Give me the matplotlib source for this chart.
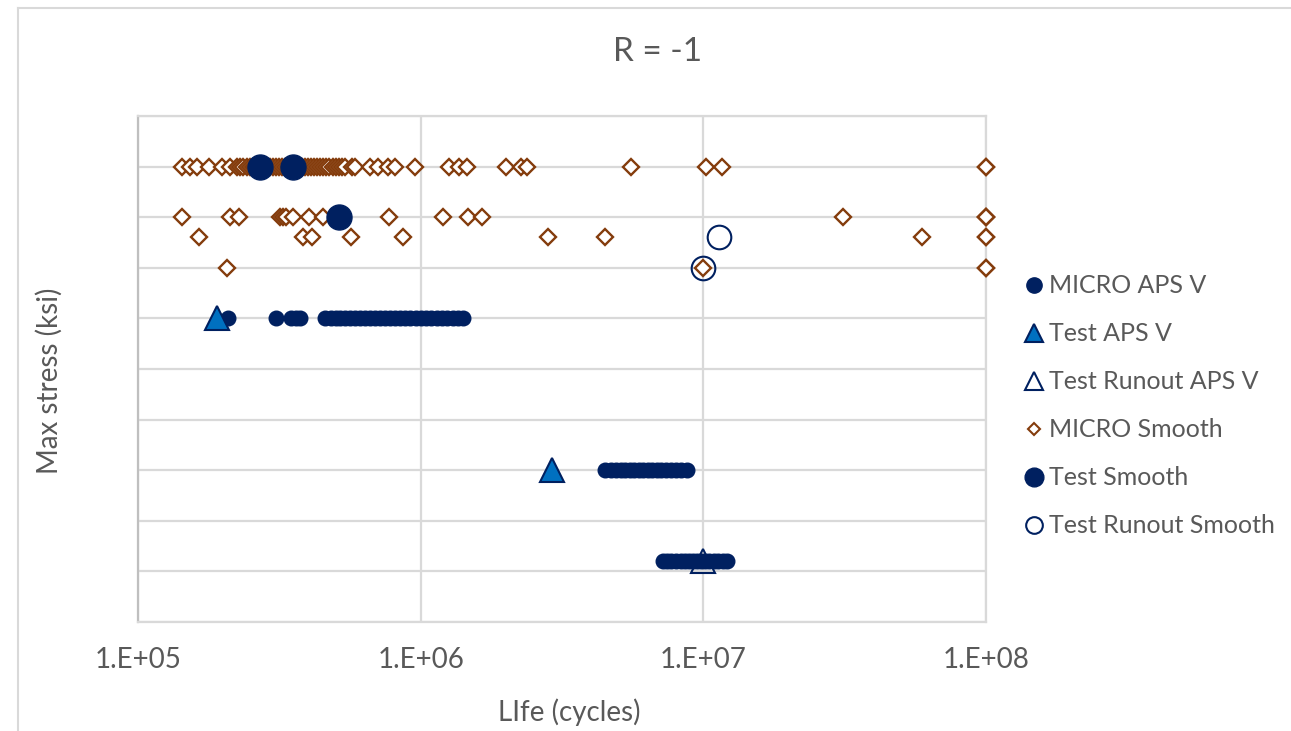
import math

import matplotlib.pyplot as plt
from matplotlib.lines import Line2D
from matplotlib.ticker import FuncFormatter

plt.rcParams["font.family"] = ["Lato", "DejaVu Sans"]

navy = "#002060"
blue = "#0070C0"
brown = "#843C0C"
grey_text = "#595959"
grid_col = "#D9D9D9"

# MICRO APS V (life in cycles, max stress)
micro_aps_x = [2.08e5, 3.08e5, 3.47e5, 3.62e5, 3.74e5,
               4.6e5, 4.8e5, 5.0e5, 5.2e5, 5.4e5, 5.6e5, 5.85e5, 6.1e5, 6.35e5, 6.6e5,
               6.9e5, 7.2e5, 7.5e5, 7.8e5, 8.1e5, 8.45e5, 8.8e5, 9.2e5, 9.6e5, 1.0e6,
               1.04e6, 1.09e6, 1.14e6, 1.19e6, 1.24e6, 1.3e6, 1.35e6, 1.41e6,
               4.5e6, 4.7e6, 4.9e6, 5.1e6, 5.3e6, 5.5e6, 5.7e6, 5.9e6, 6.1e6, 6.35e6,
               6.6e6, 6.85e6, 7.1e6, 7.4e6, 7.7e6, 8.0e6, 8.35e6, 8.75e6,
               7.2e6, 7.45e6, 7.7e6, 8.0e6, 8.3e6, 8.6e6, 8.9e6, 9.2e6, 9.5e6, 9.8e6,
               1.01e7, 1.05e7, 1.09e7, 1.13e7, 1.17e7, 1.21e7]
micro_aps_y = [60] * 33 + [30] * 18 + [12] * 16

# Test APS V
test_aps_x = [1.90e5, 2.91e6]
test_aps_y = [60, 30]

# Test Runout APS V
runout_aps_x = [1.0e7]
runout_aps_y = [12]

# MICRO Smooth
micro_smooth_x = [1.43e5, 1.53e5, 1.62e5, 1.78e5, 1.98e5, 2.12e5, 2.24e5,
                  2.30e5, 2.36e5, 2.42e5, 2.48e5, 2.55e5, 2.60e5, 2.66e5, 2.73e5, 2.80e5,
                  2.87e5, 2.94e5, 3.00e5, 3.08e5, 3.15e5, 3.22e5, 3.30e5, 3.38e5, 3.46e5,
                  3.55e5, 3.63e5, 3.72e5, 3.80e5, 3.90e5, 4.00e5, 4.10e5, 4.20e5, 4.30e5,
                  4.40e5, 4.50e5, 4.62e5, 4.75e5, 4.88e5, 5.00e5, 5.14e5, 5.27e5, 5.40e5,
                  5.71e5, 5.86e5, 6.62e5, 7.06e5, 7.66e5, 8.11e5, 9.55e5, 1.26e6, 1.37e6,
                  1.46e6, 2.00e6, 2.26e6, 2.38e6, 5.54e6, 1.02e7, 1.16e7, 1.0e8, 1.0e8,
                  1.43e5, 2.12e5, 2.27e5, 3.18e5, 3.25e5, 3.33e5, 3.53e5, 4.02e5, 4.51e5,
                  7.73e5, 1.20e6, 1.47e6, 1.65e6, 3.12e7, 1.0e8, 1.0e8, 1.0e8,
                  1.64e5, 3.83e5, 4.12e5, 5.67e5, 8.65e5, 2.82e6, 4.49e6, 5.93e7, 1.0e8, 1.0e8,
                  2.06e5, 1.0e7, 1.0e8, 1.0e8]
micro_smooth_y = [90] * 61 + [80] * 17 + [76] * 10 + [70] * 4

# Test Smooth
test_smooth_x = [2.70e5, 3.53e5, 5.14e5]
test_smooth_y = [90, 90, 80]

# Test Runout Smooth
runout_smooth_x = [1.135e7, 1.0e7]
runout_smooth_y = [76, 70]

fig = plt.figure(figsize=(12.91, 7.31), dpi=100)
ax = fig.add_axes([0.1069, 0.1491, 0.6569, 0.6922])

ax.plot(micro_aps_x, micro_aps_y, "o", ms=10.5, color=navy, mec=navy, zorder=3)
ax.plot(test_aps_x, test_aps_y, "^", ms=17, mfc=blue, mec=navy, mew=1.5, zorder=4)
ax.plot(runout_aps_x, runout_aps_y, "^", ms=17, mfc="none", mec=navy, mew=1.5, zorder=5)
ax.plot(micro_smooth_x, micro_smooth_y, "D", ms=8, mfc="white", mec=brown, mew=1.7,
        zorder=6, clip_on=False)
ax.plot(test_smooth_x, test_smooth_y, "o", ms=18, color=navy, mec=navy, zorder=7)
ax.plot(runout_smooth_x, runout_smooth_y, "o", ms=17, mfc="none", mec=navy, mew=1.5, zorder=8)

ax.set_xscale("log")
ax.set_xlim(1e5, 1e8)
ax.set_ylim(0, 100)
ax.set_xticks([1e5, 1e6, 1e7, 1e8])
ax.xaxis.set_minor_locator(plt.NullLocator())
ax.xaxis.set_major_formatter(FuncFormatter(lambda v, p: "1.E+%02d" % round(math.log10(v))))
ax.set_yticks(range(0, 101, 10))
ax.set_yticklabels([])
ax.tick_params(length=0, labelsize=20, labelcolor=grey_text, pad=18)
ax.grid(True, color=grid_col, lw=1.6)
ax.set_axisbelow(True)
for s in ax.spines.values():
    s.set_color(grid_col)
    s.set_linewidth(1.6)
ax.spines["left"].set_color("#BFBFBF")

fig.text(0.509, 0.929, "R = -1", ha="center", va="center", fontsize=24, color=grey_text)
fig.text(0.441, 0.026, "LIfe (cycles)", ha="center", va="center", fontsize=20, color=grey_text)
fig.text(0.038, 0.479, "Max stress (ksi)", ha="center", va="center", rotation=90,
         fontsize=20, color=grey_text)

handles = [
    Line2D([], [], ls="", marker="o", ms=11, color=navy),
    Line2D([], [], ls="", marker="^", ms=13, mfc=blue, mec=navy, mew=1.5),
    Line2D([], [], ls="", marker="^", ms=13, mfc="none", mec=navy, mew=1.5),
    Line2D([], [], ls="", marker="D", ms=6.5, mfc="white", mec=brown, mew=1.5),
    Line2D([], [], ls="", marker="o", ms=13.5, color=navy),
    Line2D([], [], ls="", marker="o", ms=12, mfc="none", mec=navy, mew=1.5),
]
labels = ["MICRO APS V", "Test APS V", "Test Runout APS V", "MICRO Smooth",
          "Test Smooth", "Test Runout Smooth"]
fig.legend(handles, labels, loc="center left", bbox_to_anchor=(0.795, 0.4446),
           frameon=False, fontsize=18, labelcolor=grey_text, handlelength=0.6,
           handletextpad=0.3, labelspacing=1.0, borderpad=0, borderaxespad=0)

# chart area border
fig.add_artist(Line2D([18 / 1291, 1], [1 - 7.5 / 731] * 2, color=grid_col, lw=1.5))
fig.add_artist(Line2D([18 / 1291] * 2, [0, 1 - 7.5 / 731], color=grid_col, lw=1.5))

fig.savefig("out.png", dpi=100, facecolor="white")
